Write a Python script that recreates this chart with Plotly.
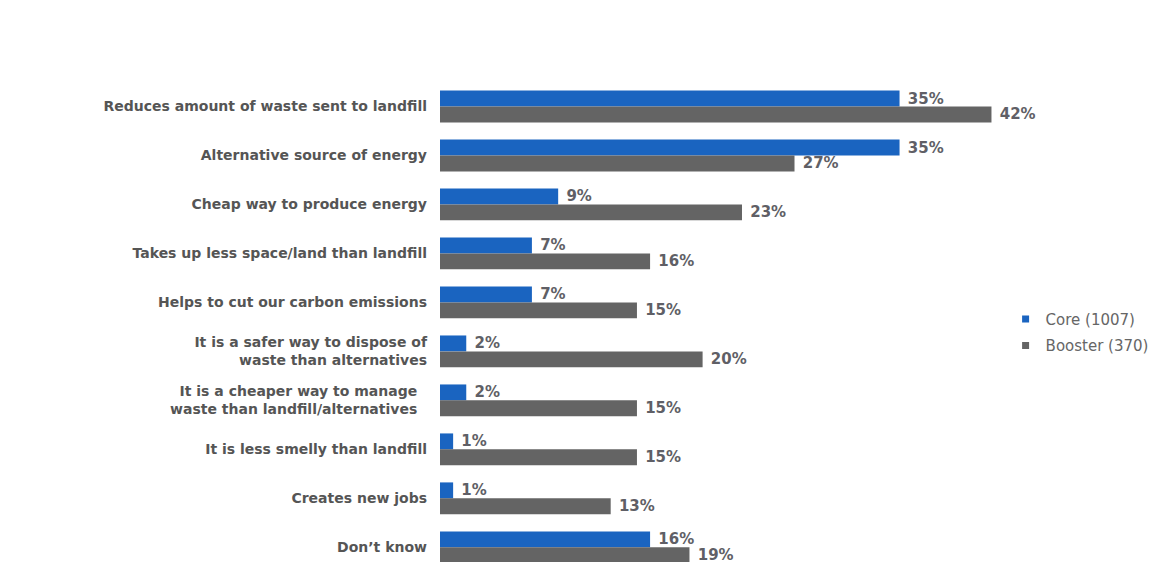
import plotly.graph_objects as go

categories = [
    "Reduces amount of waste sent to landfill",
    "Alternative source of energy",
    "Cheap way to produce energy",
    "Takes up less space/land than landfill",
    "Helps to cut our carbon emissions",
    "It is a safer way to dispose of<br>waste than alternatives",
    "It is a cheaper way to manage\u00a0\u00a0<br>waste than landfill/alternatives\u00a0\u00a0",
    "It is less smelly than landfill",
    "Creates new jobs",
    "Don\u2019t know",
]
core_values = [35, 35, 9, 7, 7, 2, 2, 1, 1, 16]
booster_values = [42, 27, 23, 16, 15, 20, 15, 15, 13, 19]
series_names = ["Core (1007)", "Booster (370)"]

BLUE = "#1a64c0"
GREY = "#646464"
LABEL_FONT = dict(family="DejaVu Sans", size=15, color="#5f5f66", weight="bold")

fig = go.Figure()
for i, (name, vals, col) in enumerate([(series_names[0], core_values, BLUE),
                                       (series_names[1], booster_values, GREY)]):
    fig.add_trace(go.Bar(
        y=categories, x=vals, orientation="h", name=name,
        marker=dict(color=col, line=dict(width=0)),
        text=[f"\u00a0{v}%" for v in vals],
        textposition="outside", textfont=LABEL_FONT,
        constraintext="none", cliponaxis=False, showlegend=False,
    ))
    # legend entry with small square symbol
    fig.add_trace(go.Scatter(
        x=[None], y=[None], mode="markers", name=name,
        marker=dict(symbol="square", size=7, color=col),
        showlegend=True, legendgroup=f"g{i}",
    ))

fig.update_layout(
    width=1157, height=562,
    margin=dict(l=440, r=157, t=82, b=0, autoexpand=False),
    paper_bgcolor="white", plot_bgcolor="white",
    barmode="group", bargap=0.35, bargroupgap=0,
    font=dict(family="DejaVu Sans", color="#555555"),
    legend=dict(x=1.01, y=0.54, xanchor="left", yanchor="top",
                font=dict(family="DejaVu Sans", size=15, color="#666666"),
                bgcolor="rgba(0,0,0,0)", tracegroupgap=4, itemwidth=30),
    showlegend=True,
)
fig.update_xaxes(range=[0, 42.65], visible=False, showgrid=False, zeroline=False)
fig.update_yaxes(
    type="category", range=[9.3, -0.5], showgrid=False, zeroline=False,
    showline=False, ticks="", ticklabelstandoff=12, automargin=False,
    tickfont=dict(family="DejaVu Sans", size=14, color="#555555", weight="bold"),
)

fig.write_html(
    "out.html",
    config={"displayModeBar": False},
    post_script="document.body.style.margin='0';document.body.style.overflow='hidden';",
)
